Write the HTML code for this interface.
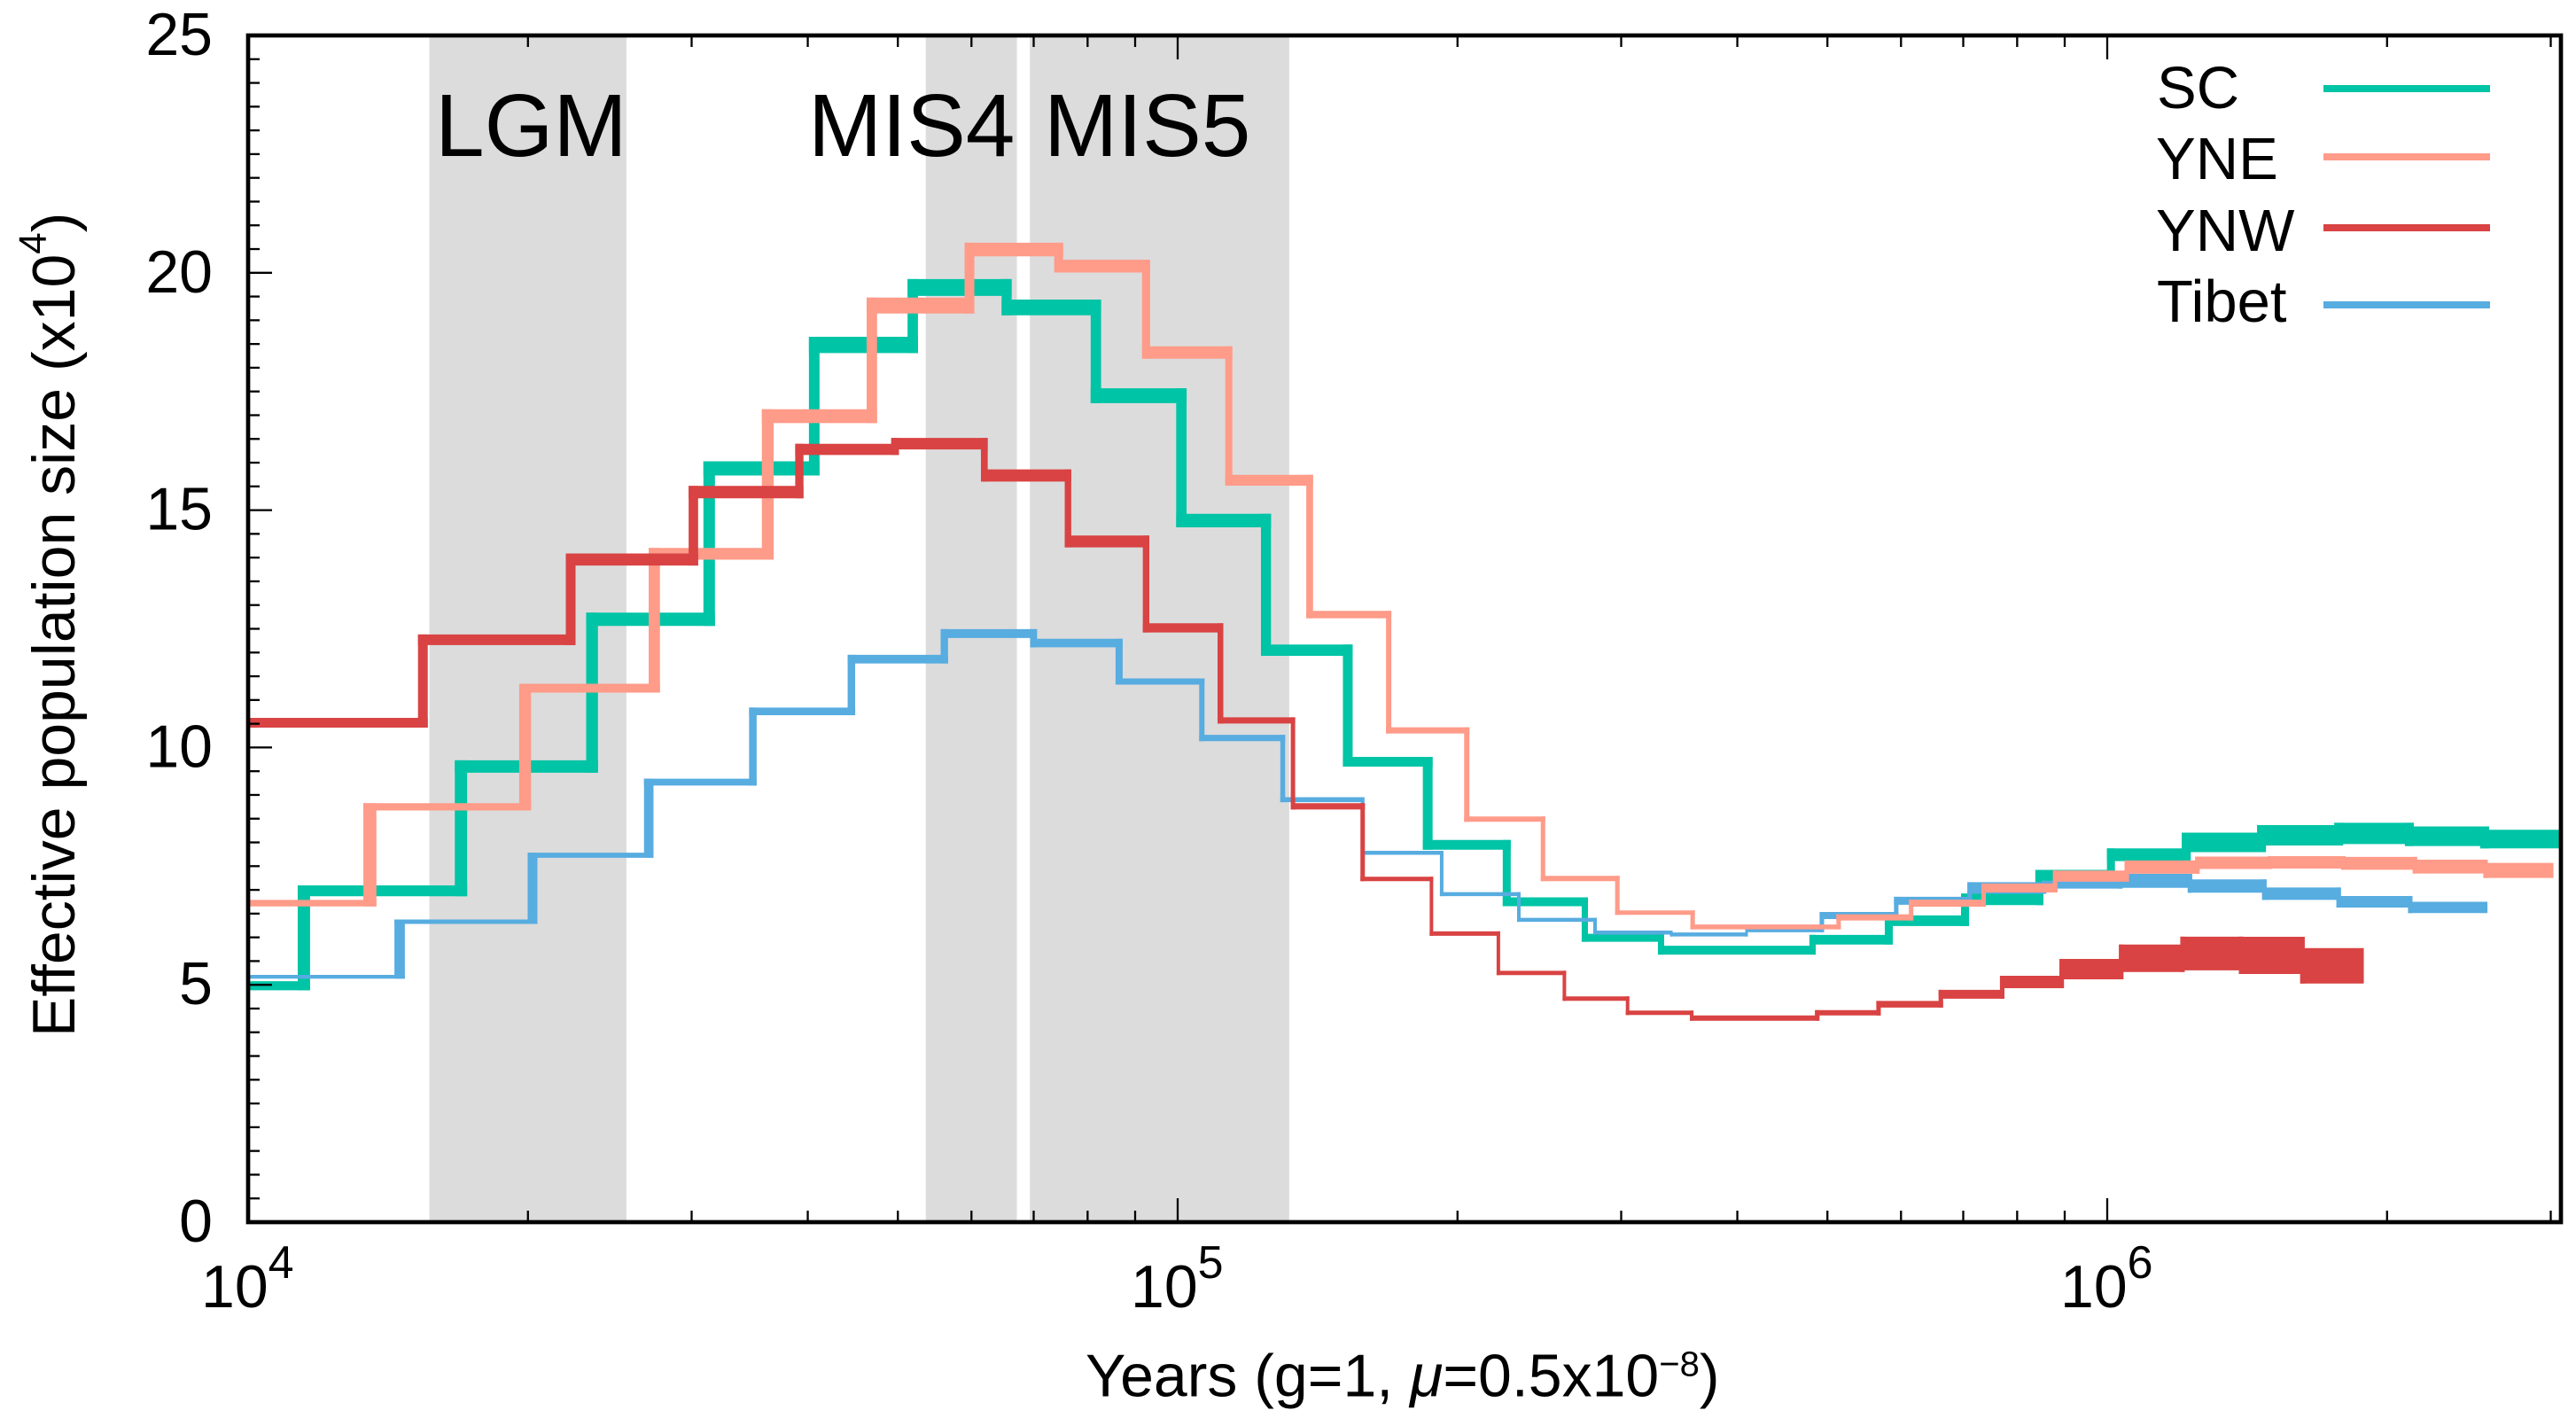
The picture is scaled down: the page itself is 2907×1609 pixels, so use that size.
<!DOCTYPE html>
<html lang="en">
<head>
<meta charset="utf-8">
<title>Effective population size</title>
<style>
html,body{margin:0;padding:0;background:#fff;}
svg{display:block;font-family:"Liberation Sans",Arial,sans-serif;}
</style>
</head>
<body>
<svg id="chart" xmlns="http://www.w3.org/2000/svg" width="2907" height="1609" viewBox="0 0 2907 1609">
  <rect x="0" y="0" width="2907" height="1609" fill="#ffffff"/>
  <g id="bands"></g>
  <g id="series"></g>
  <g id="axes"></g>
  <text x="491" y="176" font-size="100">LGM</text>
  <text x="912" y="176" font-size="100">MIS4</text>
  <text x="1178" y="176" font-size="100">MIS5</text>
  <text transform="translate(84,1170) rotate(-90)" font-size="68">Effective population size (x10<tspan font-size="44" dy="-32">4</tspan><tspan dy="32">)</tspan></text>
  <text x="1225" y="1575.5" font-size="68">Years (g=1, <tspan font-style="italic">μ</tspan>=0.5x10<tspan font-size="40" dy="-23">−8</tspan><tspan dy="23">)</tspan></text>
  <g>
    <g>
      <text x="2434" y="122" font-size="67">SC</text>
      <rect x="2622" y="96" width="188" height="8" fill="#00c4a6"/>
    </g>
    <g>
      <text x="2433" y="202" font-size="67">YNE</text>
      <rect x="2622" y="173" width="188" height="8" fill="#ff9b89"/>
    </g>
    <g>
      <text x="2433" y="283" font-size="67">YNW</text>
      <rect x="2622" y="253" width="188" height="8" fill="#d94343"/>
    </g>
    <g>
      <text x="2434" y="363" font-size="67">Tibet</text>
      <rect x="2622" y="340" width="188" height="8" fill="#57ace0"/>
    </g>
  </g>
</svg>
<script>
// Chart data. Step boundaries are log10(years); sizes are in units of 10^4.
const yTickValues = [0, 5, 10, 15, 20, 25];
const xMajorExponents = [4, 5, 6];
const bandStarts = [4.195, 4.729, 4.841];
const bandEnds = [4.407, 4.827, 5.120];

const scBounds = [4, 4.060, 4.229, 4.370, 4.496, 4.609, 4.715, 4.816, 4.912, 5.004, 5.095, 5.183, 5.269, 5.354, 5.438, 5.520, 5.683, 5.765, 5.847, 5.927, 6.004, 6.085, 6.166, 6.249, 6.325, 6.406, 6.488];
const scValues = [4.98, 6.98, 9.6, 12.7, 15.88, 18.48, 19.69, 19.27, 17.41, 14.78, 12.05, 9.7, 7.95, 6.75, 5.99, 5.73, 5.95, 6.35, 6.8, 7.3, 7.74, 8.0, 8.15, 8.19, 8.13, 8.07];
const scSizeSpread = [.192, .23, .261, .28, .299, .342, .355, .33, .312, .286, .237, .205, .205, .187, .168, .187, .205, .224, .243, .243, .267, .411, .429, .448, .411, .392];
const scTimeSpread = [.0133, .0133, .0127, .0124, .0114, .0112, .0108, .0112, .0112, .0108, .0105, .0105, .0086, .0067, .0067, .0067, .0086, .0086, .0086, .0086, .0095, .0095, .0095, .0095, .0095];

const tibetBounds = [4, 4.163, 4.306, 4.431, 4.543, 4.649, 4.749, 4.845, 4.937, 5.026, 5.113, 5.199, 5.284, 5.367, 5.449, 5.531, 5.612, 5.693, 5.773, 5.852, 5.932, 6.014, 6.089, 6.169, 6.249, 6.326, 6.409];
const tibetValues = [5.17, 6.33, 7.73, 9.27, 10.76, 11.86, 12.4, 12.2, 11.39, 10.2, 8.9, 7.78, 6.91, 6.37, 6.1, 6.06, 6.15, 6.46, 6.77, 7.04, 7.11, 7.19, 7.08, 6.92, 6.75, 6.63];
const tibetSizeSpread = [.08, .093, .106, .144, .159, .181, .187, .181, .131, .131, .103, .084, .084, .084, .084, .084, .084, .149, .168, .243, .168, .293, .28, .261, .243, .237];
const tibetTimeSpread = [.0112, .0105, .0102, .0081, .0081, .0079, .0073, .0076, .0057, .0052, .0038, .0038, .0038, .0038, .0029, .0029, .0048, .0048, .0048, .0048, .0048, .0048, .0048, .0048, .0048];

const yneBounds = [4, 4.131, 4.298, 4.437, 4.559, 4.671, 4.776, 4.872, 4.966, 5.055, 5.142, 5.227, 5.311, 5.393, 5.473, 5.554, 5.711, 5.789, 5.867, 5.944, 6.021, 6.097, 6.175, 6.254, 6.331, 6.407, 6.480];
const yneValues = [6.72, 8.75, 11.25, 14.08, 16.98, 19.31, 20.49, 20.14, 18.32, 15.63, 12.8, 10.36, 8.49, 7.24, 6.52, 6.22, 6.42, 6.72, 7.04, 7.29, 7.48, 7.57, 7.58, 7.56, 7.49, 7.41];
const yneSizeSpread = [.136, .155, .187, .248, .293, .336, .286, .267, .261, .23, .155, .131, .112, .112, .093, .103, .131, .149, .187, .237, .28, .261, .261, .271, .293, .317];
const yneTimeSpread = [.014, .0127, .0121, .0127, .0112, .0105, .0095, .0086, .0076, .0073, .0057, .0057, .0048, .0048, .0048, .0048, .0048, .0048, .0048, .0048, .0048, .0048, .0048, .0048, .0048];

const ynwBounds = [4, 4.188, 4.347, 4.479, 4.593, 4.696, 4.792, 4.882, 4.966, 5.046, 5.124, 5.199, 5.273, 5.345, 5.416, 5.484, 5.553, 5.688, 5.754, 5.821, 5.887, 5.951, 6.015, 6.081, 6.144, 6.210, 6.276];
const ynwValues = [10.52, 12.27, 13.96, 15.38, 16.28, 16.4, 15.73, 14.34, 12.52, 10.57, 8.76, 7.23, 6.08, 5.25, 4.71, 4.41, 4.3, 4.41, 4.59, 4.8, 5.06, 5.33, 5.56, 5.66, 5.62, 5.4];
const ynwSizeSpread = [.205, .224, .256, .261, .237, .243, .256, .248, .192, .131, .131, .093, .093, .093, .093, .093, .112, .112, .14, .187, .261, .429, .579, .71, .784, .747];
const ynwTimeSpread = [.0105, .0105, .0102, .0089, .0083, .0073, .007, .007, .0062, .0048, .0048, .0038, .0038, .0038, .0038, .0038, .0048, .0048, .0048, .0048, .0048, .0048, .0048, .0048, .0048];

// Axis functions
const plotLeft = 280, plotRight = 2890, plotTop = 40, plotBottom = 1379;
const pxPerDecade = 1049;
const pxPerUnit = (plotBottom - plotTop) / 25;
function xPos(logYears) { return plotLeft + pxPerDecade * (logYears - 4); }
function yPos(size) { return plotBottom - pxPerUnit * size; }

const SVG_NS = 'http://www.w3.org/2000/svg';
function addLine(parent, x1, y1, x2, y2, color, width, name) {
  const el = document.createElementNS(SVG_NS, 'line');
  el.setAttribute('x1', x1);
  el.setAttribute('y1', y1);
  el.setAttribute('x2', x2);
  el.setAttribute('y2', y2);
  el.setAttribute('stroke', color);
  el.setAttribute('stroke-width', width);
  
  
  parent.appendChild(el);
  return el;
}

// Shaded climate periods
const bandLayer = document.getElementById('bands');
const bandNames = ['lgm-band', 'mis4-band', 'mis5-band'];
bandStarts.forEach(function (start, i) {
  const r = document.createElementNS(SVG_NS, 'rect');
  r.setAttribute('x', xPos(start));
  r.setAttribute('y', plotTop);
  r.setAttribute('width', xPos(bandEnds[i]) - xPos(start));
  r.setAttribute('height', plotBottom - plotTop);
  r.setAttribute('fill', '#dcdcdc');
  
  
  bandLayer.appendChild(r);
});

// Step lines
const seriesLayer = document.getElementById('series');
function drawSeries(name, color, bounds, values, sizeSpread, timeSpread) {
  const g = document.createElementNS(SVG_NS, 'g');
  
  
  seriesLayer.appendChild(g);
  values.forEach(function (v, i) {
    const hw = sizeSpread[i] * pxPerUnit;
    const leftPad = i > 0 ? timeSpread[i - 1] * pxPerDecade / 2 : 0;
    const rightPad = i < timeSpread.length ? timeSpread[i] * pxPerDecade / 2 : 0;
    addLine(g, xPos(bounds[i]) - leftPad, yPos(v), xPos(bounds[i + 1]) + rightPad, yPos(v), color, hw, name + '-step');
    if (i < values.length - 1) {
      const next = values[i + 1];
      const nextHw = sizeSpread[i + 1] * pxPerUnit;
      const yA = yPos(v), yB = yPos(next);
      const dir = yB < yA ? -1 : 1;
      addLine(g, xPos(bounds[i + 1]), yA - dir * hw / 2, xPos(bounds[i + 1]), yB + dir * nextHw / 2, color, timeSpread[i] * pxPerDecade, name + '-riser');
    }
  });
}
drawSeries('sc', '#00c4a6', scBounds, scValues, scSizeSpread, scTimeSpread);
drawSeries('tibet', '#57ace0', tibetBounds, tibetValues, tibetSizeSpread, tibetTimeSpread);
drawSeries('yne', '#ff9b89', yneBounds, yneValues, yneSizeSpread, yneTimeSpread);
drawSeries('ynw', '#d94343', ynwBounds, ynwValues, ynwSizeSpread, ynwTimeSpread);

// Axes
const axes = document.getElementById('axes');
const axisColor = '#000000';
for (let s = 0; s <= 50; s++) {
  const v = s / 2;
  if (v === 0 || v === 25) continue;
  const major = yTickValues.indexOf(v) >= 0;
  addLine(axes, plotLeft, yPos(v), plotLeft + (major ? 27 : 13), yPos(v), axisColor, 2.3, major ? 'y-major-tick' : 'y-minor-tick');
}
xMajorExponents.forEach(function (exp) {
  for (let m = 1; m <= 9; m++) {
    const lv = exp + Math.log10(m);
    const x = xPos(lv);
    if (x >= plotRight) continue;
    if (m === 1 && exp === 4) continue;
    const len = m === 1 ? 27 : 13;
    const tickName = m === 1 ? 'x-major-tick' : 'x-minor-tick';
    addLine(axes, x, plotBottom, x, plotBottom - len, axisColor, 2.3, tickName);
    addLine(axes, x, plotTop, x, plotTop + len, axisColor, 2.3, tickName);
  }
});
const frame = document.createElementNS(SVG_NS, 'rect');
frame.setAttribute('x', plotLeft);
frame.setAttribute('y', plotTop);
frame.setAttribute('width', plotRight - plotLeft);
frame.setAttribute('height', plotBottom - plotTop);
frame.setAttribute('fill', 'none');
frame.setAttribute('stroke', axisColor);
frame.setAttribute('stroke-width', 4.7);


axes.appendChild(frame);

yTickValues.forEach(function (v) {
  const t = document.createElementNS(SVG_NS, 'text');
  t.setAttribute('x', 240);
  t.setAttribute('y', yPos(v) + 22);
  t.setAttribute('text-anchor', 'end');
  t.setAttribute('font-size', 68);
  
  
  t.textContent = String(v);
  axes.appendChild(t);
});
xMajorExponents.forEach(function (exp) {
  const t = document.createElementNS(SVG_NS, 'text');
  t.setAttribute('x', xPos(exp) - 53);
  t.setAttribute('y', 1475);
  t.setAttribute('font-size', 68);
  
  
  t.textContent = '10';
  const sup = document.createElementNS(SVG_NS, 'tspan');
  sup.setAttribute('font-size', 52);
  sup.setAttribute('dy', -33);
  sup.textContent = String(exp);
  t.appendChild(sup);
  axes.appendChild(t);
});
</script>
</body>
</html>
